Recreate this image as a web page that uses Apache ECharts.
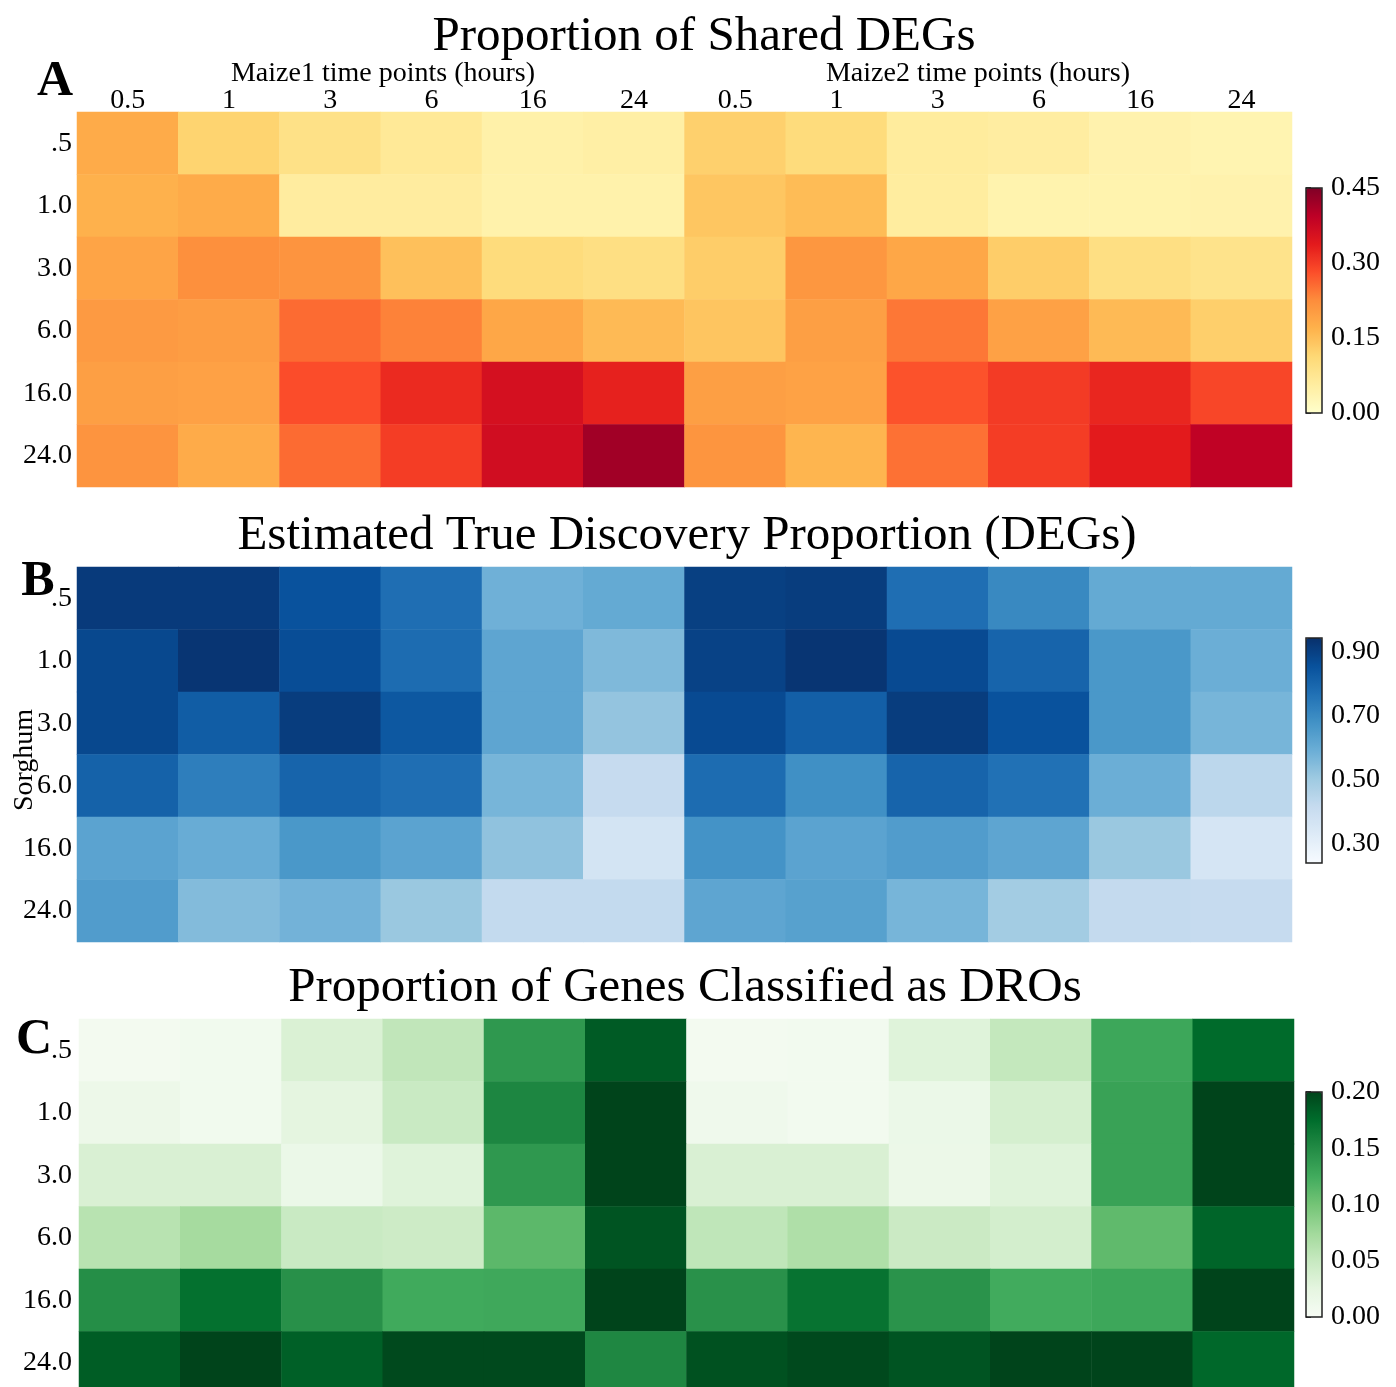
<!DOCTYPE html>
<html>
<head>
<meta charset="utf-8">
<script src="https://cdn.jsdelivr.net/npm/echarts@6/dist/echarts.min.js"></script>
<style>
html,body{margin:0;padding:0;background:#fff;}
#chart{width:1396px;height:1387px;}
</style>
</head>
<body>
<div id="chart"></div>
<script>
// ---------- data ----------
var maize1Hours = ['0.5', '1', '3', '6', '16', '24'];
var maize2Hours = ['0.5', '1', '3', '6', '16', '24'];
var sorghumHours = ['.5', '1.0', '3.0', '6.0', '16.0', '24.0'];

// A: Proportion of Shared DEGs (rows = sorghum time, cols = maize1 then maize2)
var sharedDEGs = [
  [0.180, 0.120, 0.090, 0.068, 0.045, 0.050, 0.125, 0.105, 0.060, 0.055, 0.040, 0.035],
  [0.170, 0.180, 0.058, 0.058, 0.042, 0.042, 0.140, 0.155, 0.057, 0.038, 0.038, 0.040],
  [0.190, 0.220, 0.215, 0.148, 0.105, 0.095, 0.130, 0.210, 0.185, 0.130, 0.095, 0.085],
  [0.205, 0.200, 0.255, 0.235, 0.185, 0.157, 0.142, 0.198, 0.245, 0.195, 0.157, 0.127],
  [0.198, 0.195, 0.283, 0.320, 0.360, 0.330, 0.197, 0.193, 0.278, 0.302, 0.325, 0.290],
  [0.215, 0.180, 0.255, 0.300, 0.365, 0.420, 0.213, 0.165, 0.250, 0.300, 0.338, 0.390]
];
// B: Estimated True Discovery Proportion (DEGs)
var trueDiscovery = [
  [0.916, 0.916, 0.852, 0.775, 0.585, 0.606, 0.902, 0.909, 0.775, 0.705, 0.606, 0.606],
  [0.881, 0.930, 0.867, 0.782, 0.620, 0.557, 0.895, 0.930, 0.874, 0.803, 0.662, 0.592],
  [0.881, 0.824, 0.909, 0.838, 0.620, 0.522, 0.874, 0.817, 0.909, 0.852, 0.662, 0.571],
  [0.810, 0.733, 0.803, 0.775, 0.571, 0.416, 0.782, 0.684, 0.803, 0.768, 0.592, 0.437],
  [0.627, 0.599, 0.662, 0.627, 0.529, 0.367, 0.676, 0.627, 0.648, 0.620, 0.511, 0.360],
  [0.648, 0.550, 0.578, 0.511, 0.423, 0.423, 0.620, 0.634, 0.571, 0.493, 0.420, 0.416]
];
// C: Proportion of Genes Classified as DROs
var droProportion = [
  [0.006, 0.008, 0.034, 0.054, 0.140, 0.186, 0.006, 0.007, 0.030, 0.052, 0.128, 0.176],
  [0.014, 0.008, 0.025, 0.048, 0.154, 0.200, 0.011, 0.007, 0.016, 0.038, 0.132, 0.200],
  [0.035, 0.035, 0.016, 0.030, 0.140, 0.200, 0.035, 0.035, 0.015, 0.030, 0.132, 0.200],
  [0.060, 0.072, 0.048, 0.045, 0.112, 0.190, 0.055, 0.066, 0.047, 0.040, 0.110, 0.180],
  [0.148, 0.172, 0.146, 0.126, 0.127, 0.200, 0.145, 0.170, 0.144, 0.125, 0.128, 0.200],
  [0.185, 0.200, 0.183, 0.197, 0.197, 0.153, 0.192, 0.197, 0.190, 0.200, 0.200, 0.178]
];

var cbTicksA = [0.00, 0.15, 0.30, 0.45];
var cbTicksB = [0.30, 0.50, 0.70, 0.90];
var cbTicksC = [0.00, 0.05, 0.10, 0.15, 0.20];
var rangeA = [0, 0.45];
var rangeB = [0.24, 0.944];
var rangeC = [0, 0.20];

// ---------- styling ----------
var FONT = '"Liberation Serif","DejaVu Serif",serif';
var YlOrRd = ['#ffffcc','#ffeda0','#fed976','#feb24c','#fd8d3c','#fc4e2a','#e31a1c','#bd0026','#800026'];
var Blues = ['#f7fbff','#deebf7','#c6dbef','#9ecae1','#6baed6','#4292c6','#2171b5','#08519c','#08306b'];
var Greens = ['#f7fcf5','#e5f5e0','#c7e9c0','#a1d99b','#74c476','#41ab5d','#238b45','#006d2c','#00441b'];

var xCats = maize1Hours.concat(maize2Hours);

function toCells(matrix) {
  var out = [];
  for (var r = 0; r < matrix.length; r++) {
    for (var c = 0; c < matrix[r].length; c++) {
      out.push([c, r, matrix[r][c]]);
    }
  }
  return out;
}

var heatGrids = [
  {left: 77, top: 112, width: 1215, height: 375},
  {left: 77, top: 567, width: 1215, height: 375},
  {left: 79, top: 1019, width: 1215, height: 375}
];
var cbGrids = [
  {left: 1306, top: 188, width: 16, height: 225},
  {left: 1306, top: 638, width: 16, height: 225},
  {left: 1306, top: 1092, width: 16, height: 225}
];

var grids = [], xAxes = [], yAxes = [], series = [], visualMaps = [];
var mats = [sharedDEGs, trueDiscovery, droProportion];
var ranges = [rangeA, rangeB, rangeC];
var cmaps = [YlOrRd, Blues, Greens];
var ticks = [cbTicksA, cbTicksB, cbTicksC];

for (var i = 0; i < 3; i++) {
  grids.push(Object.assign({containLabel: false, outerBoundsMode: 'none'}, heatGrids[i]));
  xAxes.push({
    type: 'category', gridIndex: i, data: xCats, position: 'top',
    axisLine: {show: false}, axisTick: {show: false}, splitLine: {show: false},
    axisLabel: {show: i === 0, interval: 0, fontFamily: FONT, fontSize: 28, color: '#000', margin: -3}
  });
  yAxes.push({
    type: 'category', gridIndex: i, data: sorghumHours, inverse: true,
    axisLine: {show: false}, axisTick: {show: false}, splitLine: {show: false},
    axisLabel: {interval: 0, fontFamily: FONT, fontSize: 28, color: '#000', margin: (i === 2 ? 7 : 5)}
  });
  series.push({
    type: 'heatmap', xAxisIndex: i, yAxisIndex: i,
    data: toCells(mats[i]), itemStyle: {borderWidth: 0},
    emphasis: {disabled: true}, progressive: 0
  });
  visualMaps.push({
    type: 'continuous', seriesIndex: i, min: ranges[i][0], max: ranges[i][1],
    calculable: false, realtime: false, hoverLink: false,
    inRange: {color: cmaps[i]}, orient: 'vertical',
    left: cbGrids[i].left, top: cbGrids[i].top,
    itemWidth: cbGrids[i].width, itemHeight: cbGrids[i].height,
    padding: 0, text: null, showLabel: false
  });
}
// colorbar axes
for (var k = 0; k < 3; k++) {
  var gi = 3 + k;
  grids.push(Object.assign({show: true, borderColor: '#222', borderWidth: 1.5, backgroundColor: 'transparent', z: 10, outerBoundsMode: 'none', containLabel: false}, cbGrids[k]));
  xAxes.push({type: 'value', gridIndex: gi, show: false, min: 0, max: 1});
  yAxes.push({
    type: 'value', gridIndex: gi, position: 'right',
    min: ranges[k][0], max: ranges[k][1],
    axisLine: {show: false}, splitLine: {show: false},
    axisTick: {show: true, length: 5, lineStyle: {color: '#000', width: 1.5}, customValues: ticks[k]},
    axisLabel: {fontFamily: FONT, fontSize: 28, color: '#000', margin: 9, customValues: ticks[k],
      formatter: function (v) { return Number(v).toFixed(2); }}
  });
}

function txt(x, y, s, size, bold, rot) {
  return {type: 'text', x: x, y: y, z: 100, rotation: rot || 0,
    style: {text: s, fontFamily: FONT, fontSize: size, fontWeight: bold ? 'bold' : 'normal',
      fill: '#000', align: 'center', verticalAlign: 'middle'}};
}

var option = {
  animation: false,
  backgroundColor: '#fff',
  grid: grids, xAxis: xAxes, yAxis: yAxes, series: series, visualMap: visualMaps,
  graphic: [
    txt(704, 37, 'Proportion of Shared DEGs', 49, false),
    txt(687, 536, 'Estimated True Discovery Proportion (DEGs)', 49, false),
    txt(685, 988, 'Proportion of Genes Classified as DROs', 49, false),
    txt(383, 74, 'Maize1 time points (hours)', 28, false),
    txt(978, 74, 'Maize2 time points (hours)', 28, false),
    txt(25, 760, 'Sorghum', 28, false, Math.PI / 2),
    txt(55, 82, 'A', 50, true),
    txt(38, 582, 'B', 50, true),
    txt(34, 1040, 'C', 50, true)
  ]
};

var chart = echarts.init(document.getElementById('chart'), null, {renderer: 'canvas'});
chart.setOption(option);
</script>
</body>
</html>
